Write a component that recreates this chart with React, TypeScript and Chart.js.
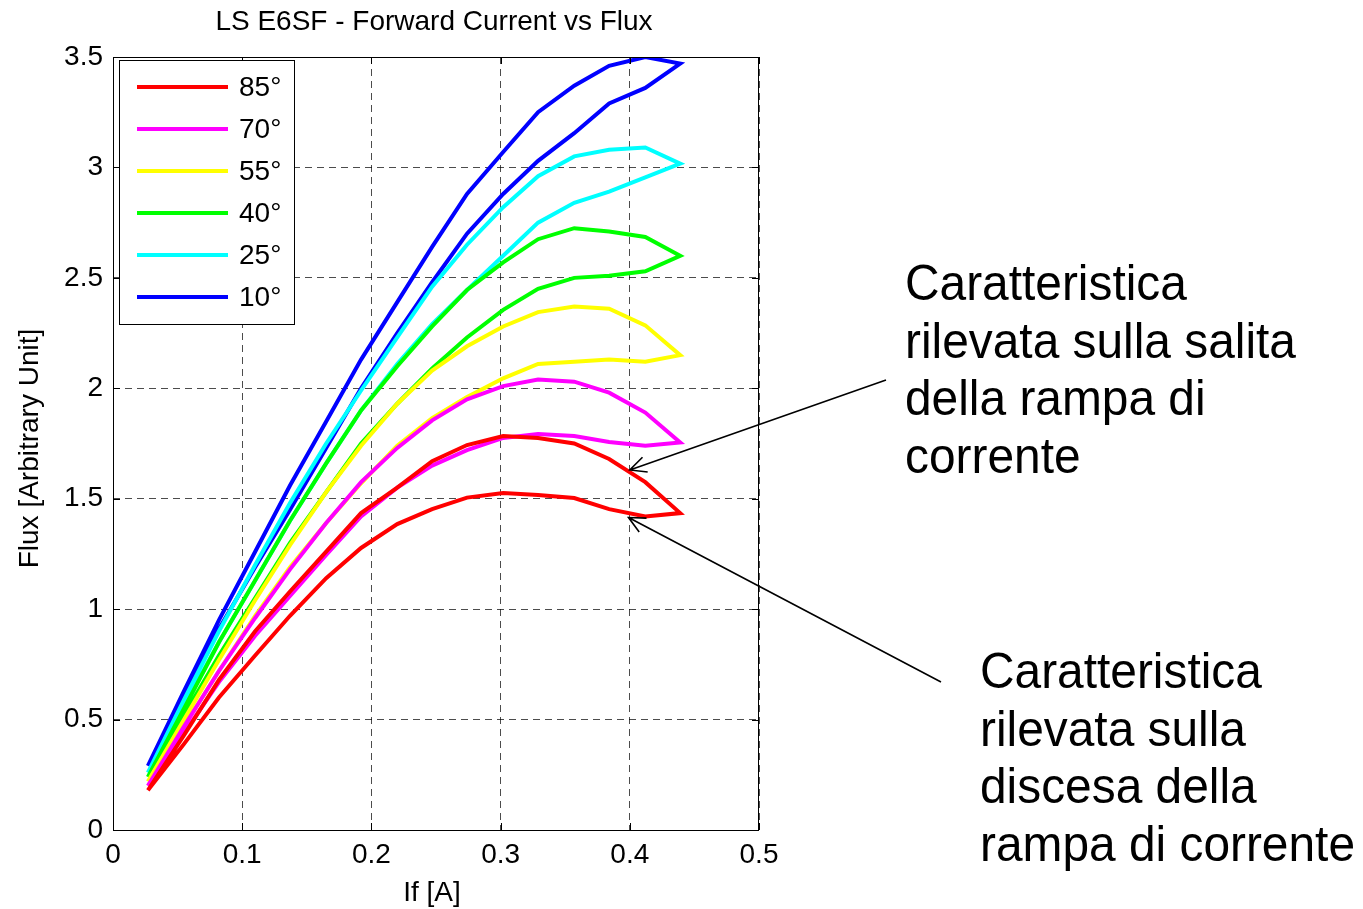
import React, { useEffect, useRef } from "react";
import { Chart, registerables } from "chart.js";

Chart.register(...registerables);

// Forward current samples (A)
const IF = [0.027, 0.055, 0.082, 0.110, 0.137, 0.165, 0.192, 0.220, 0.247, 0.274, 0.302, 0.329, 0.357, 0.384, 0.412, 0.439];

// Flux on the rising ramp (salita) and falling ramp (discesa)
const RISE_85 = [0.18, 0.43, 0.68, 0.90, 1.08, 1.26, 1.435, 1.55, 1.67, 1.743, 1.784, 1.775, 1.75, 1.68, 1.575, 1.435];
const FALL_85 = [0.18, 0.39, 0.60, 0.79, 0.97, 1.14, 1.277, 1.385, 1.453, 1.505, 1.526, 1.517, 1.503, 1.453, 1.42, 1.435];
const RISE_70 = [0.20, 0.47, 0.72, 0.96, 1.18, 1.39, 1.575, 1.73, 1.855, 1.95, 2.01, 2.04, 2.03, 1.98, 1.89, 1.755];
const FALL_70 = [0.20, 0.44, 0.67, 0.88, 1.06, 1.245, 1.42, 1.55, 1.65, 1.72, 1.775, 1.793, 1.784, 1.757, 1.74, 1.755];
const RISE_55 = [0.22, 0.50, 0.77, 1.04, 1.29, 1.53, 1.74, 1.93, 2.08, 2.19, 2.28, 2.345, 2.37, 2.36, 2.285, 2.15];
const FALL_55 = [0.22, 0.47, 0.72, 0.97, 1.19, 1.39, 1.57, 1.74, 1.865, 1.96, 2.045, 2.11, 2.12, 2.13, 2.12, 2.15];
const RISE_40 = [0.24, 0.55, 0.85, 1.13, 1.40, 1.66, 1.90, 2.10, 2.28, 2.445, 2.57, 2.675, 2.725, 2.71, 2.685, 2.60];
const FALL_40 = [0.24, 0.52, 0.79, 1.05, 1.30, 1.53, 1.75, 1.93, 2.09, 2.23, 2.355, 2.45, 2.50, 2.51, 2.53, 2.60];
const RISE_25 = [0.26, 0.59, 0.90, 1.20, 1.48, 1.75, 1.99, 2.23, 2.46, 2.65, 2.82, 2.96, 3.05, 3.08, 3.09, 3.017];
const FALL_25 = [0.26, 0.56, 0.85, 1.13, 1.40, 1.66, 1.90, 2.11, 2.29, 2.445, 2.60, 2.75, 2.84, 2.89, 2.955, 3.017];
const RISE_10 = [0.29, 0.63, 0.95, 1.26, 1.56, 1.85, 2.13, 2.39, 2.64, 2.88, 3.07, 3.25, 3.37, 3.46, 3.50, 3.47];
const FALL_10 = [0.29, 0.61, 0.91, 1.19, 1.45, 1.73, 2.00, 2.25, 2.48, 2.70, 2.88, 3.03, 3.155, 3.29, 3.36, 3.47];

const LABELS = ["85°", "70°", "55°", "40°", "25°", "10°"];
const COLORS = ["#ff0000", "#ff00ff", "#ffff00", "#00ff00", "#00ffff", "#0000ff"];
const RISES = [RISE_85, RISE_70, RISE_55, RISE_40, RISE_25, RISE_10];
const FALLS = [FALL_85, FALL_70, FALL_55, FALL_40, FALL_25, FALL_10];

const X_TICKS = [0, 0.1, 0.2, 0.3, 0.4, 0.5];
const Y_TICKS = [0, 0.5, 1, 1.5, 2, 2.5, 3, 3.5];

const TITLE = "LS E6SF - Forward Current vs Flux";
const X_TITLE = "If [A]";
const Y_TITLE = "Flux [Arbitrary Unit]";
const NOTE_RISE = ["Caratteristica", "rilevata sulla salita", "della rampa di", "corrente"];
const NOTE_FALL = ["Caratteristica", "rilevata sulla", "discesa della", "rampa di corrente"];
// arrow tips in data units
const TIP_RISE = { x: 0.4, y: 1.63 };
const TIP_FALL = { x: 0.399, y: 1.415 };

const FONT = '"Liberation Sans", Arial, Helvetica, sans-serif';

function loop(rise: number[], fall: number[]) {
  const pts = IF.map((x, i) => ({ x, y: rise[i] }));
  for (let i = IF.length - 2; i >= 0; i--) pts.push({ x: IF[i], y: fall[i] });
  return pts;
}

const fmt = (v: number) => String(Math.round(v * 10) / 10);

const decorPlugin = {
  id: "decor",
  afterDraw(chart: any) {
    const ctx = chart.ctx;
    const { left, right, top, bottom } = chart.chartArea;
    const xs = chart.scales.x;
    const ys = chart.scales.y;
    ctx.save();
    // axis box
    ctx.strokeStyle = "#000";
    ctx.lineWidth = 1;
    ctx.setLineDash([]);
    ctx.strokeRect(left + 0.5, top + 0.5, right - left - 1, bottom - top);
    // inward ticks
    const tl = 7;
    ctx.beginPath();
    X_TICKS.forEach((v) => {
      const px = Math.round(xs.getPixelForValue(v)) + 0.5;
      ctx.moveTo(px, bottom); ctx.lineTo(px, bottom - tl);
      ctx.moveTo(px, top); ctx.lineTo(px, top + tl);
    });
    Y_TICKS.forEach((v) => {
      const py = Math.round(ys.getPixelForValue(v)) + 0.5;
      ctx.moveTo(left, py); ctx.lineTo(left + tl, py);
      ctx.moveTo(right, py); ctx.lineTo(right - tl, py);
    });
    ctx.stroke();

    // title and axis titles
    ctx.fillStyle = "#000";
    ctx.font = `28px ${FONT}`;
    ctx.textAlign = "center";
    ctx.textBaseline = "middle";
    const cx = (left + right) / 2;
    ctx.fillText(TITLE, cx - 2, 22);
    ctx.fillText(X_TITLE, cx - 4, 893);
    ctx.save();
    ctx.translate(30, (top + bottom) / 2 + 5);
    ctx.rotate(-Math.PI / 2);
    ctx.fillText(Y_TITLE, 0, 0);
    ctx.restore();

    // legend
    const lx = 119, ly = 60, lw = 175, lh = 264;
    ctx.fillStyle = "#fff";
    ctx.fillRect(lx, ly, lw, lh);
    ctx.strokeStyle = "#000";
    ctx.lineWidth = 1;
    ctx.strokeRect(lx + 0.5, ly + 0.5, lw, lh);
    ctx.textAlign = "left";
    ctx.textBaseline = "middle";
    ctx.font = `28px ${FONT}`;
    chart.data.datasets.forEach((ds: any, i: number) => {
      const y = 87 + i * 42;
      ctx.strokeStyle = ds.borderColor;
      ctx.lineWidth = 4;
      ctx.beginPath();
      ctx.moveTo(137, y);
      ctx.lineTo(228, y);
      ctx.stroke();
      ctx.fillStyle = "#000";
      ctx.fillText(ds.label, 239, y + 1);
    });

    // annotations
    ctx.font = `50px ${FONT}`;
    ctx.textBaseline = "alphabetic";
    ctx.fillStyle = "#000";
    const drawBlock = (lines: string[], x: number, y0: number) => {
      lines.forEach((t, i) => {
        ctx.save();
        ctx.translate(x, y0 + i * 57.5);
        ctx.scale(0.957, 1);
        ctx.fillText(t, 0, 0);
        ctx.restore();
      });
    };
    drawBlock(NOTE_RISE, 905, 300);
    drawBlock(NOTE_FALL, 980, 688);

    const arrow = (x0: number, y0: number, tip: { x: number; y: number }) => {
      const x1 = xs.getPixelForValue(tip.x);
      const y1 = ys.getPixelForValue(tip.y);
      ctx.strokeStyle = "#000";
      ctx.lineWidth = 1.6;
      ctx.beginPath();
      ctx.moveTo(x0, y0);
      ctx.lineTo(x1, y1);
      const a = Math.atan2(y0 - y1, x0 - x1);
      const hl = 18, ha = 0.45;
      ctx.moveTo(x1 + hl * Math.cos(a + ha), y1 + hl * Math.sin(a + ha));
      ctx.lineTo(x1, y1);
      ctx.lineTo(x1 + hl * Math.cos(a - ha), y1 + hl * Math.sin(a - ha));
      ctx.stroke();
    };
    arrow(886, 380, TIP_RISE);
    arrow(941, 682, TIP_FALL);
    ctx.restore();
  },
};

export default function App() {
  const ref = useRef<HTMLCanvasElement | null>(null);
  useEffect(() => {
    if (!ref.current) return;
    const datasets = LABELS.map((label, i) => ({
      label,
      data: loop(RISES[i], FALLS[i]),
      borderColor: COLORS[i],
      backgroundColor: COLORS[i],
      borderWidth: 4,
      pointRadius: 0,
      showLine: true,
      fill: false,
      tension: 0,
    }));
    const chart = new Chart(ref.current, {
      type: "scatter",
      data: { datasets },
      options: {
        animation: false,
        responsive: false,
        devicePixelRatio: 1,
        layout: { padding: { left: 0, top: 57, right: 604, bottom: 0 } },
        plugins: { legend: { display: false }, title: { display: false }, tooltip: { enabled: false } },
        scales: {
          x: {
            type: "linear",
            min: 0,
            max: 0.5,
            afterFit: (s: any) => { s.height = 79; },
            afterBuildTicks: (s: any) => { s.ticks = X_TICKS.map((v) => ({ value: v })); },
            ticks: { color: "#000", font: { family: FONT, size: 28 }, padding: 8, maxRotation: 0, autoSkip: false, callback: (v: any) => fmt(Number(v)) },
            grid: { color: "rgba(0,0,0,0.7)", lineWidth: 1, drawTicks: false },
            border: { display: false, dash: [7, 5] },
          },
          y: {
            type: "linear",
            min: 0,
            max: 3.5,
            afterFit: (s: any) => { s.width = 113; },
            afterBuildTicks: (s: any) => { s.ticks = Y_TICKS.map((v) => ({ value: v })); },
            ticks: { color: "#000", font: { family: FONT, size: 28 }, padding: 10, autoSkip: false, callback: (v: any) => fmt(Number(v)) },
            grid: { color: "rgba(0,0,0,0.7)", lineWidth: 1, drawTicks: false },
            border: { display: false, dash: [7, 5] },
          },
        },
      },
      plugins: [decorPlugin],
    });
    return () => chart.destroy();
  }, []);
  return (
    <div style={{ position: "fixed", left: 0, top: 0, width: 1363, height: 909, background: "#fff" }}>
      <canvas ref={ref} width={1363} height={909} style={{ width: 1363, height: 909 }} />
    </div>
  );
}
